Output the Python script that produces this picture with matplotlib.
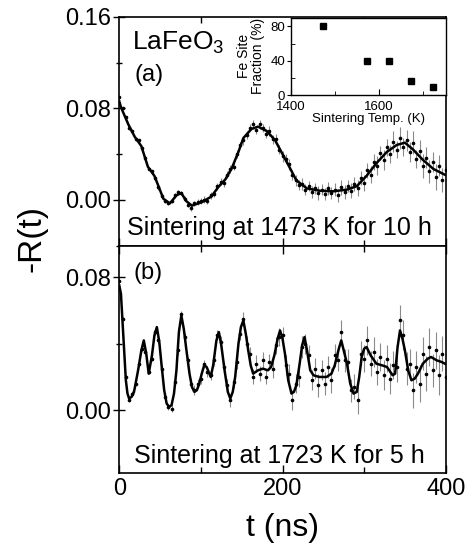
import numpy as np
import matplotlib.pyplot as plt
from matplotlib.ticker import MultipleLocator, FormatStrFormatter

plt.rcParams['font.family'] = ['Liberation Sans', 'DejaVu Sans']

# ---- panel (a): sintered 1473 K, 10 h ----
t_fit_a = [0, 2, 11, 19, 27, 35, 43, 48, 54, 62, 70, 76, 82, 89, 101, 113, 121, 130,
           138, 146, 152, 162, 170, 181, 191, 200, 209, 217, 230, 246, 262, 279, 291,
           303, 315, 328, 340, 350, 360, 372, 385, 399]
r_fit_a = [0.086, 0.081, 0.066, 0.055, 0.047, 0.029, 0.021, 0.012, 0.001, -0.003, 0.004,
           0.006, -0.001, -0.005, -0.002, 0.003, 0.011, 0.018, 0.028, 0.042, 0.054, 0.062,
           0.064, 0.060, 0.052, 0.040, 0.028, 0.017, 0.010, 0.008, 0.0075, 0.009, 0.012,
           0.021, 0.032, 0.042, 0.048, 0.050, 0.044, 0.035, 0.027, 0.022]

t_data = np.arange(0, 401, 4)
r_data_a = [0.090, 0.080, 0.072, 0.063, 0.060, 0.053, 0.052, 0.045, 0.037, 0.027,
            0.025, 0.019, 0.011, 0.003, -0.001, -0.003, -0.001, 0.004, 0.007, 0.006,
            0.001, -0.004, -0.007, -0.003, -0.002, -0.001, 0.000, -0.001, 0.004, 0.005,
            0.012, 0.016, 0.015, 0.022, 0.027, 0.029, 0.040, 0.048, 0.052, 0.057,
            0.063, 0.066, 0.061, 0.066, 0.063, 0.058, 0.060, 0.053, 0.053, 0.044,
            0.038, 0.036, 0.031, 0.022, 0.017, 0.013, 0.014, 0.009, 0.012, 0.007,
            0.010, 0.006, 0.009, 0.005, 0.010, 0.006, 0.009, 0.004, 0.011, 0.007,
            0.012, 0.008, 0.014, 0.010, 0.019, 0.015, 0.026, 0.022, 0.033, 0.030,
            0.041, 0.035, 0.046, 0.040, 0.051, 0.044, 0.054, 0.046, 0.052, 0.042,
            0.050, 0.036, 0.043, 0.030, 0.037, 0.025, 0.033, 0.020, 0.030, 0.017,
            0.026]
err_a = [0.001, 0.001, 0.001, 0.0015, 0.001, 0.0015, 0.001, 0.0015, 0.0015, 0.001,
         0.0015, 0.0015, 0.002, 0.0015, 0.002, 0.0015, 0.002, 0.002, 0.0015, 0.002,
         0.002, 0.002, 0.0025, 0.002, 0.0025, 0.0025, 0.003, 0.0025, 0.003, 0.0025,
         0.003, 0.003, 0.0035, 0.003, 0.0035, 0.003, 0.0035, 0.003, 0.004, 0.0035,
         0.003, 0.004, 0.0035, 0.004, 0.0035, 0.004, 0.0045, 0.004, 0.0045, 0.004,
         0.0045, 0.004, 0.005, 0.0045, 0.005, 0.0045, 0.0055, 0.005, 0.0045, 0.0055,
         0.005, 0.006, 0.005, 0.0055, 0.006, 0.005, 0.006, 0.0055, 0.0065, 0.006,
         0.0055, 0.0065, 0.006, 0.007, 0.006, 0.007, 0.0065, 0.0075, 0.007, 0.008,
         0.0065, 0.0085, 0.0075, 0.008, 0.009, 0.0075, 0.0095, 0.008, 0.009, 0.0085,
         0.010, 0.008, 0.0095, 0.0105, 0.009, 0.010, 0.0085, 0.011, 0.0095, 0.0105,
         0.010]

# ---- panel (b): sintered 1723 K, 5 h ----
t_fit_b = [0, 2, 5, 8, 10, 12, 15, 18, 23, 27, 30, 33, 36, 40, 43, 46, 49, 52, 55, 58,
           61, 64, 67, 70, 73, 76, 79, 82, 86, 89, 92, 95, 98, 101, 104, 107, 112, 115,
           119, 122, 125, 129, 133, 136, 139, 142, 146, 149, 152, 155, 158, 161, 164,
           170, 176, 182, 186, 190, 194, 197, 200, 203, 207, 211, 214, 217, 221, 224,
           227, 230, 234, 238, 245, 254, 260, 264, 269, 272, 275, 279, 283, 287, 291,
           294, 297, 300, 303, 308, 315, 322, 328, 335, 338, 341, 344, 347, 350, 354,
           358, 362, 366, 372, 378, 382, 389, 395, 399]
r_fit_b = [0.075, 0.070, 0.044, 0.018, 0.010, 0.007, 0.008, 0.011, 0.024, 0.036, 0.042,
           0.034, 0.022, 0.033, 0.045, 0.050, 0.041, 0.026, 0.012, 0.004, 0.002, 0.003,
           0.010, 0.024, 0.047, 0.057, 0.049, 0.037, 0.022, 0.014, 0.011, 0.012, 0.016,
           0.022, 0.027, 0.026, 0.020, 0.027, 0.042, 0.047, 0.039, 0.024, 0.011, 0.007,
           0.011, 0.020, 0.040, 0.050, 0.054, 0.046, 0.036, 0.027, 0.022, 0.024, 0.025,
           0.024, 0.026, 0.033, 0.043, 0.048, 0.043, 0.034, 0.018, 0.010, 0.011, 0.015,
           0.028, 0.039, 0.044, 0.036, 0.024, 0.021, 0.020, 0.020, 0.022, 0.027, 0.037,
           0.042, 0.036, 0.028, 0.016, 0.010, 0.011, 0.020, 0.032, 0.037, 0.038, 0.033,
           0.028, 0.027, 0.026, 0.021, 0.022, 0.038, 0.048, 0.043, 0.036, 0.024, 0.018,
           0.019, 0.022, 0.028, 0.031, 0.032, 0.030, 0.029, 0.028]

r_data_b = [0.078, 0.055, 0.020, 0.006, 0.010, 0.016, 0.028, 0.037, 0.035, 0.023,
            0.031, 0.047, 0.042, 0.025, 0.008, 0.002, 0.001, 0.017, 0.036, 0.058,
            0.044, 0.030, 0.016, 0.012, 0.016, 0.019, 0.028, 0.023, 0.021, 0.030,
            0.045, 0.041, 0.026, 0.015, 0.006, 0.017, 0.029, 0.046, 0.055, 0.040,
            0.034, 0.020, 0.028, 0.022, 0.030, 0.020, 0.029, 0.025, 0.039, 0.044,
            0.045, 0.027, 0.022, 0.006, 0.016, 0.020, 0.038, 0.040, 0.033, 0.018,
            0.025, 0.015, 0.024, 0.016, 0.026, 0.018, 0.033, 0.030, 0.047, 0.030,
            0.029, 0.012, 0.014, 0.006, 0.034, 0.031, 0.042, 0.028, 0.035, 0.023,
            0.032, 0.021, 0.031, 0.019, 0.027, 0.026, 0.054, 0.045, 0.025, 0.028,
            0.012, 0.026, 0.016, 0.034, 0.022, 0.038, 0.024, 0.036, 0.021, 0.034,
            0.020]
err_b = [0.001, 0.001, 0.001, 0.001, 0.0015, 0.001, 0.0015, 0.0015, 0.001, 0.0015,
         0.0015, 0.002, 0.0015, 0.002, 0.0015, 0.002, 0.002, 0.002, 0.0025, 0.002,
         0.0025, 0.002, 0.0025, 0.003, 0.0025, 0.003, 0.0025, 0.003, 0.003, 0.0035,
         0.003, 0.0035, 0.003, 0.0035, 0.004, 0.0035, 0.004, 0.0035, 0.004, 0.0045,
         0.004, 0.0045, 0.005, 0.0045, 0.005, 0.0045, 0.005, 0.0055, 0.005, 0.0055,
         0.005, 0.006, 0.0055, 0.006, 0.0055, 0.006, 0.0065, 0.006, 0.0065, 0.006,
         0.0065, 0.007, 0.006, 0.007, 0.0065, 0.0075, 0.007, 0.0065, 0.0075, 0.007,
         0.008, 0.007, 0.0075, 0.0085, 0.0075, 0.008, 0.0085, 0.0075, 0.009, 0.008,
         0.0085, 0.009, 0.008, 0.0095, 0.0085, 0.009, 0.0095, 0.009, 0.010, 0.009,
         0.0105, 0.0095, 0.011, 0.010, 0.0105, 0.0115, 0.010, 0.011, 0.012, 0.0105,
         0.011]

# ---- inset: Fe site fraction vs sintering temperature ----
sinter_temp = [1473, 1573, 1623, 1673, 1723]
fe_fraction = [80, 40, 40, 16, 9]

fig = plt.figure(figsize=(4.72, 5.48), dpi=100)
ax_a = fig.add_axes([0.2528, 0.5516, 0.6915, 0.4179])
ax_b = fig.add_axes([0.2528, 0.1363, 0.6915, 0.4153])


def draw_panel(ax, t_fit, r_fit, r_data, err):
    ax.errorbar(t_data, r_data, yerr=err, fmt='none', ecolor='#8a8a8a',
                elinewidth=0.8, capsize=0, zorder=1)
    ax.plot(t_data, r_data, 'o', color='black', markersize=1.6, zorder=2)
    ax.plot(t_fit, r_fit, color='black', linewidth=1.8, zorder=3)
    ax.set_xlim(0, 400)
    ax.xaxis.set_major_locator(MultipleLocator(200))
    ax.xaxis.set_minor_locator(MultipleLocator(100))
    ax.yaxis.set_major_locator(MultipleLocator(0.08))
    ax.yaxis.set_minor_locator(MultipleLocator(0.04))
    ax.yaxis.set_major_formatter(FormatStrFormatter('%.2f'))
    ax.tick_params(axis='y', which='major', direction='inout', length=8, width=1,
                   labelsize=17, pad=2)
    ax.tick_params(axis='y', which='minor', direction='inout', length=5, width=1)
    ax.tick_params(axis='x', which='both', direction='in', width=1, labelsize=17,
                   top=True)
    ax.tick_params(axis='x', which='major', length=6)
    ax.tick_params(axis='x', which='minor', length=4)
    for s in ax.spines.values():
        s.set_linewidth(1.2)


draw_panel(ax_a, t_fit_a, r_fit_a, r_data_a, err_a)
ax_a.set_ylim(-0.04, 0.16)
ax_a.tick_params(axis='x', labelbottom=False, top=False)

draw_panel(ax_b, t_fit_b, r_fit_b, r_data_b, err_b)
ax_b.set_ylim(-0.038, 0.099)
ax_b.set_xlabel('t (ns)', fontsize=23, labelpad=9)

ax_a.text(0.038, 0.855, 'LaFeO$_\\mathregular{3}$', transform=ax_a.transAxes,
          fontsize=19, va='baseline')
ax_a.text(0.048, 0.745, '(a)', transform=ax_a.transAxes, fontsize=17, va='center')
ax_a.text(0.492, 0.047, 'Sintering at 1473 K for 10 h', transform=ax_a.transAxes,
          fontsize=18, ha='center', va='baseline')
ax_b.text(0.042, 0.879, '(b)', transform=ax_b.transAxes, fontsize=17, va='center')
ax_b.text(0.491, 0.047, 'Sintering at 1723 K for 5 h', transform=ax_b.transAxes,
          fontsize=18, ha='center', va='baseline')

fig.text(0.068, 0.565, '-R(t)', rotation=90, fontsize=24, ha='center', va='center')

# inset
ax_in = fig.add_axes([0.6159, 0.8266, 0.329, 0.141])
ax_in.plot(sinter_temp, fe_fraction, 's', color='black', markersize=5)
ax_in.set_xlim(1400, 1752)
ax_in.set_ylim(0, 90)
ax_in.xaxis.set_major_locator(MultipleLocator(200))
ax_in.xaxis.set_minor_locator(MultipleLocator(100))
ax_in.yaxis.set_major_locator(MultipleLocator(40))
ax_in.yaxis.set_minor_locator(MultipleLocator(20))
ax_in.tick_params(axis='x', which='both', direction='in', labelsize=9.5, pad=4.5)
ax_in.tick_params(axis='x', which='major', length=4)
ax_in.tick_params(axis='x', which='minor', length=3)
ax_in.tick_params(axis='y', which='major', direction='out', length=3, labelsize=9.5, pad=1)
ax_in.tick_params(axis='y', which='minor', direction='in', length=3)
ax_in.set_xlabel('Sintering Temp. (K)', fontsize=9.5, labelpad=0)
ax_in.set_ylabel('Fe Site\nFraction (%)', fontsize=10, labelpad=4, linespacing=1.0)
for s in ax_in.spines.values():
    s.set_linewidth(1.0)

fig.savefig('out.png', dpi=100)
